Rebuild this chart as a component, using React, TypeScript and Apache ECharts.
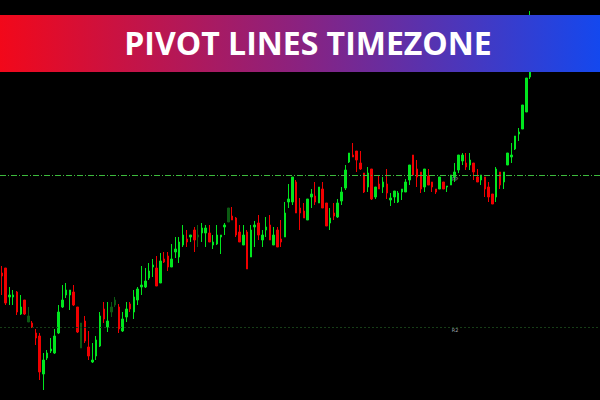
import React, { useEffect, useRef } from "react";
import * as echarts from "echarts";

// Price in points; each candle: open, close, low, high
const opens = [127,132,103,103,108,86,100,84,77,67,64,26,42,49,47,67,93,105,105,108,93,52,79,53,38,44,54,91,73,88,95,93,69,83,96,88,100,113,113,122,133,132,117,141,144,133,148,143,155,161,163,170,165,167,167,167,155,156,163,173,178,184,182,168,155,168,143,173,177,160,170,175,155,170,161,163,198,198,218,192,189,180,203,204,197,211,197,177,187,183,199,212,238,245,249,237,227,213,231,203,216,213,216,200,203,198,208,208,220,245,231,228,213,224,218,211,211,218,213,215,223,230,239,237,235,237,223,220,223,213,206,203,228,218,235,243,251,266,271,288,323];
const closes = [124,97,105,105,88,93,86,78,73,62,28,40,47,51,64,88,100,110,110,95,68,77,59,44,40,60,84,81,79,93,100,71,81,91,91,103,111,115,119,129,135,114,139,138,133,141,151,158,165,158,165,160,163,172,172,158,158,165,165,175,192,180,165,158,165,131,170,175,165,165,173,160,165,153,158,187,201,223,187,187,182,201,206,198,213,192,174,182,184,197,208,230,247,243,240,231,208,227,201,213,211,218,207,202,209,207,211,218,235,225,223,211,231,215,213,208,223,211,214,225,228,245,245,233,240,228,218,225,211,203,196,231,215,228,247,245,264,268,295,322,375];
const lows = [105,95,95,95,85,85,85,78,72,55,20,10,40,47,46,66,92,102,90,94,67,52,57,40,37,40,53,77,68,83,93,67,68,78,88,81,95,105,112,120,123,114,117,137,129,133,142,137,153,153,158,148,153,158,153,158,151,155,146,165,178,180,163,158,155,131,143,153,160,153,163,160,155,153,153,163,192,195,187,170,182,180,192,195,197,192,174,170,180,182,195,210,237,243,228,230,207,208,200,201,211,207,201,194,197,197,200,208,215,225,213,207,208,215,208,206,211,211,208,215,218,227,235,230,230,220,218,215,203,198,196,198,211,211,235,237,250,259,271,288,321];
const highs = [134,132,113,110,109,105,100,93,79,71,67,47,50,62,71,95,115,117,110,115,93,77,84,69,57,64,88,98,98,98,103,96,88,98,98,110,113,134,132,137,141,144,147,148,148,156,163,163,175,170,165,173,175,177,175,175,165,175,165,177,192,193,183,175,175,170,175,179,185,170,183,185,173,173,180,198,216,223,220,202,197,201,211,218,213,218,197,192,197,201,213,235,247,257,249,249,227,233,231,213,225,223,231,207,209,209,211,221,235,245,240,228,231,231,218,211,223,218,214,225,237,245,247,247,247,237,231,225,223,218,206,233,228,228,247,257,264,272,295,322,389];
// candles drawn dimmed (1-based positions)
const dimCandles = [8, 22, 30, 31, 53, 61];
const slotCount = 159;
const pivotLevel = 225;
const r2Level = 73;
const titleText = "PIVOT LINES TIMEZONE";

const GREEN = "#00e61e";
const RED = "#f00000";
const DIM_GREEN = "#0b5a12";
const DIM_RED = "#5e0606";

export default function App() {
  const ref = useRef<HTMLDivElement>(null);
  useEffect(() => {
    if (!ref.current) return;
    const chart = echarts.init(ref.current, undefined, { renderer: "svg" });
    const categories = Array.from({ length: slotCount }, (_, i) => String(i + 1));
    const data = opens.map((o, i) => {
      const dim = dimCandles.includes(i + 1);
      const item: any = { value: [o, closes[i], lows[i], highs[i]] };
      if (dim) {
        item.itemStyle = {
          color: DIM_GREEN,
          color0: DIM_RED,
          borderColor: DIM_GREEN,
          borderColor0: DIM_RED,
        };
      }
      return item;
    });
    chart.setOption({
      animation: false,
      backgroundColor: "#000000",
      grid: { left: 0, right: 0, top: 0, bottom: 0 },
      xAxis: {
        type: "category",
        data: categories,
        boundaryGap: true,
        show: false,
      },
      yAxis: {
        type: "value",
        min: 0,
        max: 400,
        show: false,
        splitLine: { show: false },
      },
      series: [
        {
          type: "candlestick",
          data,
          barWidth: 2,
          itemStyle: {
            color: GREEN,
            color0: RED,
            borderColor: GREEN,
            borderColor0: RED,
            borderWidth: 1,
          },
          markLine: {
            silent: true,
            symbol: "none",
            label: { show: false },
            data: [
              {
                yAxis: pivotLevel,
                lineStyle: { color: "#3dbb3d", width: 1, type: [6, 2, 1, 2] },
              },
              {
                yAxis: r2Level,
                lineStyle: { color: "#173d17", width: 1, type: [2, 2] },
              },
            ],
          },
        },
      ],
      graphic: [
        {
          type: "rect",
          z: 100,
          shape: { x: 0, y: 15, width: 600, height: 57 },
          style: {
            fill: new echarts.graphic.LinearGradient(0, 0, 1, 0, [
              { offset: 0, color: "#f2081a" },
              { offset: 0.5, color: "#8a2280" },
              { offset: 1, color: "#1448ee" },
            ]),
          },
        },
        {
          type: "text",
          z: 101,
          x: 308,
          y: 42,
          style: {
            text: titleText,
            fill: "#ffffff",
            font: "bold 32px 'Open Sans'",
            textAlign: "center",
            textVerticalAlign: "middle",
          },
        },
        {
          type: "text",
          z: 101,
          x: 455,
          y: 179,
          style: {
            text: "PP",
            fill: "#9aa0a6",
            font: "5px 'DejaVu Sans'",
            textAlign: "center",
            textVerticalAlign: "middle",
          },
        },
        {
          type: "text",
          z: 101,
          x: 455,
          y: 330,
          style: {
            text: "R2",
            fill: "#9aa0a6",
            font: "5px 'DejaVu Sans'",
            textAlign: "center",
            textVerticalAlign: "middle",
          },
        },
      ],
    });
    return () => chart.dispose();
  }, []);
  return (
    <div
      ref={ref}
      style={{ position: "fixed", left: 0, top: 0, width: 600, height: 400 }}
    />
  );
}
